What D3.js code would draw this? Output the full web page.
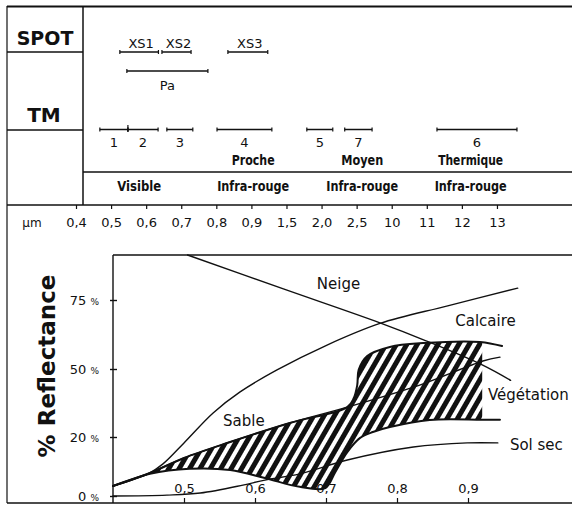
<!DOCTYPE html>
<html>
<head>
<meta charset="utf-8">
<script src="https://cdn.jsdelivr.net/npm/d3@7"></script>
<style>
  body { margin: 0; background: #fff; }
  svg { display: block; font-family: "DejaVu Sans", sans-serif; }
</style>
</head>
<body>
<svg width="572" height="505"></svg>
<script>
// wavelength ticks of the top strip (μm)
const wlTicks = [0.4, 0.5, 0.6, 0.7, 0.8, 0.9, 1.5, 2.0, 2.5, 10, 11, 12, 13];

// SPOT bands (μm, as drawn)
const spotNames = ['XS1', 'XS2', 'XS3'];
const spotFrom = [0.525, 0.645, 0.833];
const spotTo = [0.635, 0.728, 1.18];
const panName = 'Pa';
const panRange = [0.545, 0.776];

// Landsat TM bands (μm, as drawn)
const tmNames = ['1', '2', '3', '4', '5', '7', '6'];
const tmFrom = [0.468, 0.548, 0.659, 0.802, 1.79, 2.33, 11.29];
const tmTo = [0.548, 0.634, 0.733, 1.25, 2.16, 5.8, 13.57];

// spectral domains
const regionTop = ['', 'Proche', 'Moyen', 'Thermique'];
const regionBottom = ['Visible', 'Infra-rouge', 'Infra-rouge', 'Infra-rouge'];
const regionAt = [0.58, 0.93, 3.7, 12.25];

// reflectance curves [μm, %]
const neige = [[0.505, 91.3], [0.64, 79], [0.776, 66.7], [0.84, 60.3], [0.92, 51.5], [0.96, 45]];
const calcaire = [[0.4, 3.4], [0.45, 7.6], [0.47, 10.8], [0.5, 18], [0.541, 30.6], [0.579, 39.9],
  [0.631, 49.6], [0.7, 58.5], [0.776, 66.5], [0.87, 72.8], [0.97, 79.3]];
const sable = [[0.4, 3.4], [0.452, 7.8], [0.5, 12.9], [0.565, 18.3], [0.649, 26.2], [0.73, 33.2],
  [0.832, 42.9], [0.921, 52.9], [0.945, 54.3]];
const vegUpper = [[0.4, 3.4], [0.452, 7.8], [0.5, 12.9], [0.565, 18.3], [0.649, 26.2], [0.73, 33.2],
  [0.739, 37.1], [0.744, 42.9], [0.746, 49.6], [0.758, 54.7], [0.79, 58], [0.837, 59.4],
  [0.917, 59.8], [0.948, 58.3]];
const vegLower = [[0.4, 3.4], [0.452, 7.5], [0.508, 9.2], [0.565, 8.8], [0.614, 6.1], [0.663, 3.1],
  [0.699, 2.7], [0.713, 8.1], [0.73, 14.9], [0.748, 19.7], [0.766, 22.2], [0.79, 24.4],
  [0.846, 27.5], [0.92, 27.6], [0.945, 27.6]];
const solSec = [[0.4, 0], [0.476, 0.3], [0.523, 1], [0.583, 3.7], [0.614, 5.4], [0.663, 7.5],
  [0.73, 12.2], [0.823, 16.6], [0.899, 18], [0.942, 18]];
const vegEnd = 0.92;

const reflTicks = [0, 20, 50, 75];
const lambdaTicks = [0.5, 0.6, 0.7, 0.8, 0.9];

const ink = '#111';
const svg = d3.select('svg');

// ---------- frame of the top strip
const frame = svg.append('g').attr('stroke', ink).attr('fill', 'none');
const hline = (x1, x2, y, w) => frame.append('line')
  .attr('x1', x1).attr('x2', x2).attr('y1', y).attr('y2', y).attr('stroke-width', w);
const vline = (x, y1, y2, w) => frame.append('line')
  .attr('x1', x).attr('x2', x).attr('y1', y1).attr('y2', y2).attr('stroke-width', w);
hline(7, 572, 6.5, 2);
hline(7, 83, 52, 1.5);
hline(7, 83, 130, 1.5);
hline(83, 572, 172, 1.5);
hline(7, 572, 205, 1.6);
hline(7, 572, 503, 1.6);
vline(7, 6, 503, 1.2);
vline(83, 6, 205, 1.5);

svg.append('text').attr('x', 45).attr('y', 45).attr('text-anchor', 'middle')
  .attr('font-size', 19).attr('font-weight', 'bold').attr('fill', ink).text('SPOT');
svg.append('text').attr('x', 44).attr('y', 122).attr('text-anchor', 'middle')
  .attr('font-size', 20).attr('font-weight', 'bold').attr('fill', ink).text('TM');

// ---------- wavelength scale (piecewise)
const wl = d3.scaleLinear().domain(wlTicks).range(wlTicks.map((d, i) => 76 + i * 35.08));
const commaFmt = d => (d < 10 ? d3.format('.1f')(d).replace('.', ',') : String(d));

const wlAxis = svg.append('g')
  .attr('transform', 'translate(0,205)')
  .call(d3.axisBottom(wl).tickValues(wlTicks).tickFormat(commaFmt).tickSize(4).tickPadding(9));
wlAxis.select('.domain').remove();
wlAxis.attr('font-family', null).attr('font-size', 13);
wlAxis.selectAll('.tick line').attr('stroke', ink).attr('stroke-width', 1.2);
wlAxis.selectAll('.tick text').attr('fill', ink);
svg.append('text').attr('x', 32).attr('y', 227).attr('text-anchor', 'middle')
  .attr('font-size', 12).attr('fill', ink).text('μm');

// ---------- bands
const bands = svg.append('g').attr('stroke', ink).attr('stroke-width', 1.5);
function band(a, b, yy) {
  bands.append('line').attr('x1', wl(a)).attr('x2', wl(b)).attr('y1', yy).attr('y2', yy);
  [a, b].forEach(v => bands.append('line')
    .attr('x1', wl(v)).attr('x2', wl(v)).attr('y1', yy - 2).attr('y2', yy + 2).attr('stroke-width', 1.2));
}
function bandLabel(text, at, yy, size) {
  svg.append('text').attr('x', at).attr('y', yy).attr('text-anchor', 'middle')
    .attr('font-size', size).attr('fill', ink).text(text);
}

spotNames.forEach((n, i) => {
  band(spotFrom[i], spotTo[i], 52);
  bandLabel(n, (wl(spotFrom[i]) + wl(spotTo[i])) / 2 + 2, 48, 13);
});
band(panRange[0], panRange[1], 71);
bandLabel(panName, (wl(panRange[0]) + wl(panRange[1])) / 2, 90, 13);

tmNames.forEach((n, i) => {
  band(tmFrom[i], tmTo[i], 129.5);
  bandLabel(n, (wl(tmFrom[i]) + wl(tmTo[i])) / 2, 147, 13);
});
// shared limit of bands 1 and 2
bands.append('line').attr('x1', wl(tmTo[0])).attr('x2', wl(tmTo[0]))
  .attr('y1', 125).attr('y2', 132).attr('stroke-width', 1.2);

// spectral domains
const heavyWidth = { 'Proche': 43, 'Moyen': 42, 'Thermique': 65, 'Visible': 44, 'Infra-rouge': 72 };
function heavy(text, x, yy) {
  if (!text) return;
  svg.append('text').attr('x', x).attr('y', yy).attr('text-anchor', 'middle')
    .attr('font-size', 14).attr('font-weight', 'bold').attr('fill', ink)
    .attr('textLength', heavyWidth[text]).attr('lengthAdjust', 'spacingAndGlyphs')
    .text(text);
}
regionAt.forEach((v, i) => {
  heavy(regionTop[i], wl(v), 165);
  heavy(regionBottom[i], wl(v), 191);
});

// ---------- reflectance chart
const x = d3.scaleLinear().domain([0.4, 1.0]).range([113, 539]);
const y = d3.scaleLinear().domain([0, 20, 50, 75, 91.3]).range([496, 437, 369, 300, 255]);

const defs = svg.append('defs');
const pat = defs.append('pattern').attr('id', 'hatch')
  .attr('width', 9).attr('height', 9)
  .attr('patternUnits', 'userSpaceOnUse')
  .attr('patternTransform', 'rotate(30)');
pat.append('rect').attr('width', 9).attr('height', 9).attr('fill', '#fff');
pat.append('rect').attr('width', 5).attr('height', 9).attr('fill', ink);

defs.append('clipPath').attr('id', 'vegClip')
  .append('rect')
  .attr('x', x(0.4)).attr('y', y(91.3))
  .attr('width', x(vegEnd) - x(0.4)).attr('height', y(0) - y(91.3) + 8);

const line = d3.line()
  .x(d => x(d[0]))
  .y(d => y(d[1]))
  .curve(d3.curveCatmullRom.alpha(0.5));

// hatched vegetation band: upper curve then lower curve back
const vegPath = line(vegUpper) + 'L' + line(vegLower.slice().reverse()).slice(1) + 'Z';
svg.append('path')
  .attr('d', vegPath)
  .attr('fill', 'url(#hatch)')
  .attr('clip-path', 'url(#vegClip)');

const curves = svg.append('g').attr('fill', 'none').attr('stroke', ink)
  .attr('stroke-linejoin', 'round').attr('stroke-linecap', 'round');
[vegUpper, vegLower].forEach(c => curves.append('path').attr('d', line(c)).attr('stroke-width', 2));
[sable, calcaire, neige, solSec].forEach(c =>
  curves.append('path').attr('d', line(c)).attr('stroke-width', 1.4));

// frame lines of the chart
frame.append('line').attr('x1', 113).attr('x2', 572).attr('y1', 255).attr('y2', 255).attr('stroke-width', 1.6);
frame.append('line').attr('x1', 113).attr('x2', 113).attr('y1', 255).attr('y2', 503).attr('stroke-width', 1.4);

// y axis
const yAxis = svg.append('g')
  .attr('transform', `translate(${x(0.4)},0)`)
  .call(d3.axisLeft(y).tickValues(reflTicks).tickSize(4).tickPadding(10));
yAxis.select('.domain').remove();
yAxis.attr('font-family', null).attr('font-size', 13);
yAxis.selectAll('.tick line').attr('x2', -3).attr('x1', 4).attr('stroke', ink).attr('stroke-width', 1.4);
yAxis.selectAll('.tick text').attr('fill', ink).text(null)
  .each(function (d) {
    const t = d3.select(this);
    t.append('tspan').text(d + ' ');
    t.append('tspan').attr('font-size', 9).text('%');
  });

// x axis (labels inside the plot)
const xAxis = svg.append('g')
  .attr('transform', 'translate(0,503)')
  .call(d3.axisTop(x).tickValues(lambdaTicks).tickFormat(commaFmt).tickSize(5).tickPadding(5));
xAxis.select('.domain').remove();
xAxis.attr('font-family', null).attr('font-size', 13);
xAxis.selectAll('.tick line').attr('stroke', ink).attr('stroke-width', 1.2);
xAxis.selectAll('.tick text').attr('fill', ink);

// y title
svg.append('text')
  .attr('transform', 'translate(55,366) rotate(-90)')
  .attr('text-anchor', 'middle')
  .attr('font-size', 23).attr('font-weight', 'bold').attr('fill', ink)
  .text('% Reflectance');

// curve names
const curveNames = ['Neige', 'Calcaire', 'Sable', 'Végétation', 'Sol sec'];
const nameAt = [[0.687, 79], [0.882, 65.6], [0.555, 24.9], [0.928, 36.3], [0.959, 15.6]];
curveNames.forEach((n, i) => {
  svg.append('text')
    .attr('x', x(nameAt[i][0])).attr('y', y(nameAt[i][1]))
    .attr('font-size', 15).attr('fill', ink)
    .text(n);
});
</script>
</body>
</html>
